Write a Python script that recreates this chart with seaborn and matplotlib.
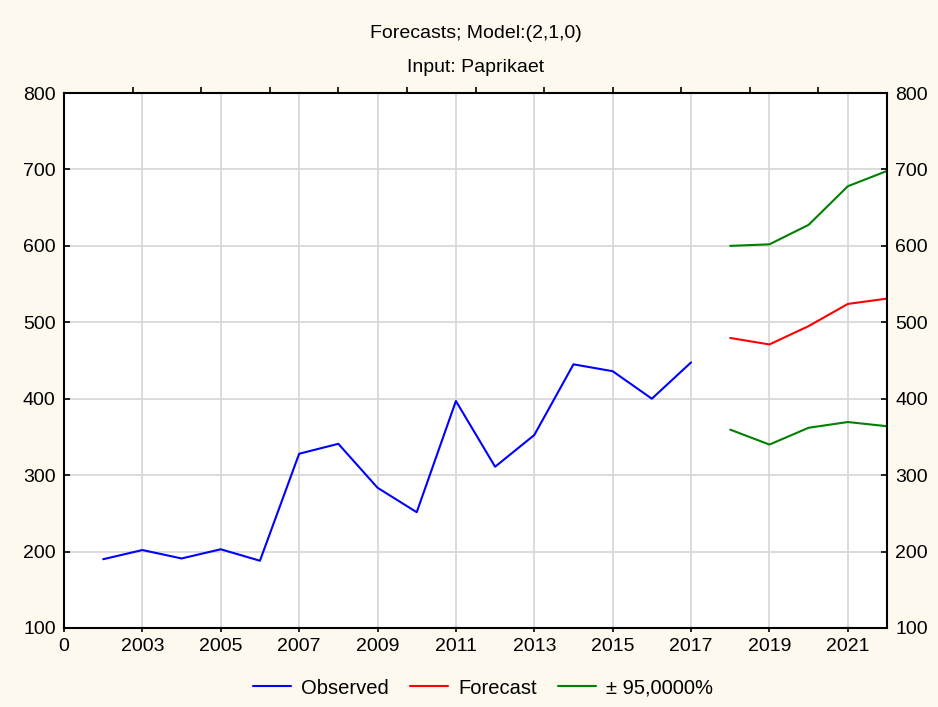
import numpy as np
import pandas as pd
import matplotlib
matplotlib.use("Agg")
import matplotlib.pyplot as plt
import seaborn as sns

obs_years = [2002, 2003, 2004, 2005, 2006, 2007, 2008, 2009, 2010, 2011, 2012, 2013, 2014, 2015, 2016, 2017]
observed = [190, 202, 191, 203, 188, 328, 341, 283.5, 251.5, 397, 311, 352.5, 445, 436, 400, 447.5]
fc_years = [2018, 2019, 2020, 2021, 2022]
forecast = [479.5, 471, 495, 524, 531]
upper = [600, 602, 627.5, 678, 698]
lower = [359.5, 340, 362, 369.5, 364]
xtick_pos = [2001, 2003, 2005, 2007, 2009, 2011, 2013, 2015, 2017, 2019, 2021]
xtick_labels = ["0", "2003", "2005", "2007", "2009", "2011", "2013", "2015", "2017", "2019", "2021"]
yticks = [100, 200, 300, 400, 500, 600, 700, 800]

sns.set_theme(style="white")
plt.rcParams['font.family'] = ['Liberation Sans', 'DejaVu Sans']
plt.rcParams['text.color'] = 'black'

fig = plt.figure(figsize=(9.38, 7.07), dpi=100, facecolor='#fdf9ee')
ax = fig.add_axes([64/938, 1-628/707, (887-64)/938, (628-93)/707])
ax.set_facecolor('white')

df_obs = pd.DataFrame({'year': obs_years, 'value': observed})
df_fc = pd.DataFrame({'year': fc_years, 'value': forecast})
df_up = pd.DataFrame({'year': fc_years, 'value': upper})
df_lo = pd.DataFrame({'year': fc_years, 'value': lower})

sns.lineplot(data=df_obs, x='year', y='value', ax=ax, color='#0000ff', lw=1.5, label='Observed')
sns.lineplot(data=df_fc, x='year', y='value', ax=ax, color='#ff0000', lw=1.5, label='Forecast')
sns.lineplot(data=df_up, x='year', y='value', ax=ax, color='#008000', lw=1.5, label='± 95,0000%')
sns.lineplot(data=df_lo, x='year', y='value', ax=ax, color='#008000', lw=1.5, label='_nolegend_')

ax.set_xlim(2001, 2022)
ax.set_ylim(100, 800)
ax.set_xticks(xtick_pos)
ax.set_xticklabels(xtick_labels)
ax.set_yticks(yticks)
ax.set_xlabel('')
ax.set_ylabel('')
ax.grid(True, color='#d9d9d9', lw=1.3)
ax.set_axisbelow(True)
for s in ax.spines.values():
    s.set_color('black')
    s.set_linewidth(1.5)
ax.tick_params(axis='y', direction='in', length=4, width=1.2, colors='black',
               labelsize=14, pad=6, left=True, right=False)
ax.tick_params(axis='x', direction='out', length=3, width=1.2, colors='black',
               labelsize=14, pad=4, bottom=True, top=False)

# top axis ticks at equal subdivisions
x0, x1 = ax.get_xlim()
top = ax.secondary_xaxis('top')
top.set_xticks([x0 + (x1 - x0) * k / 12 for k in range(1, 12)])
top.tick_params(axis='x', direction='out', length=4, width=1.2, colors='black', labeltop=False)
top.spines['top'].set_visible(False)

ax2 = ax.twinx()
ax2.set_ylim(100, 800)
ax2.set_yticks(yticks)
ax2.tick_params(axis='y', direction='in', length=4, width=1.2, labelsize=14, pad=6, colors='black')
ax2.grid(False)
for s in ax2.spines.values():
    s.set_visible(False)

handles, labels = ax.get_legend_handles_labels()
ax.get_legend().remove()
fig.legend(handles, labels, loc='center', bbox_to_anchor=(483/938, 1-688/707), ncol=3,
           frameon=False, fontsize=14.5, handlelength=1.9, columnspacing=1.05, handletextpad=0.5)

cx = 475.5/938
fig.text(cx, 1-34/707, 'Forecasts; Model:(2,1,0)', ha='center', va='center',
         fontsize=14, color='black')
fig.text(cx, 1-67/707, 'Input: Paprikaet', ha='center', va='center',
         fontsize=14, color='black')

fig.savefig('out.png', dpi=100, facecolor=fig.get_facecolor())
